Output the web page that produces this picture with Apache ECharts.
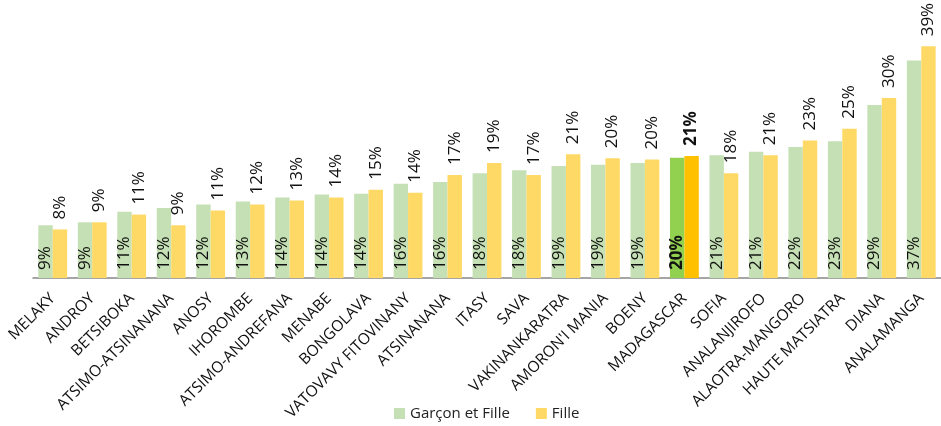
<!DOCTYPE html>
<html><head><meta charset="utf-8">
<script src="https://cdn.jsdelivr.net/npm/echarts@6/dist/echarts.min.js"></script>
<style>html,body{margin:0;padding:0;background:#fff}#c{width:941px;height:426px}</style>
</head><body><div id="c"></div>
<script>
const categories = ["MELAKY","ANDROY","BETSIBOKA","ATSIMO-ATSINANANA","ANOSY","IHOROMBE","ATSIMO-ANDREFANA","MENABE","BONGOLAVA","VATOVAVY FITOVINANY","ATSINANANA","ITASY","SAVA","VAKINANKARATRA","AMORON'I MANIA","BOENY","MADAGASCAR","SOFIA","ANALANJIROFO","ALAOTRA-MANGORO","HAUTE MATSIATRA","DIANA","ANALAMANGA"];
const garconEtFille = [8.9,9.4,11.2,11.8,12.4,12.9,13.6,14.1,14.2,15.9,16.2,17.7,18.2,18.9,19.1,19.4,20.3,20.7,21.3,22.1,23.1,29.2,36.7];
const fille = [8.2,9.4,10.7,8.9,11.4,12.4,13.1,13.6,14.9,14.4,17.4,19.4,17.4,20.9,20.2,20.0,20.6,17.7,20.7,23.2,25.2,30.4,39.1];
const highlight = "MADAGASCAR";

const FONT = "'Open Sans', 'Noto Sans', sans-serif";
const fmt = p => Math.round(p.value) + '%';

function mk(vals, hiColor) {
  return vals.map((v, i) => categories[i] === highlight
    ? {value: v, itemStyle: {color: hiColor}, label: {fontWeight: 'bold'}}
    : v);
}

const chart = echarts.init(document.getElementById('c'));
chart.setOption({
  animation: false,
  grid: {left: 33, right: -3, top: 41, bottom: 148},
  legend: {
    bottom: 0, left: 389, itemWidth: 11, itemHeight: 11, itemGap: 26,
    icon: 'rect',
    textStyle: {fontFamily: FONT, fontSize: 15, color: '#222'},
    data: ['Garçon et Fille', 'Fille']
  },
  xAxis: {
    type: 'category', data: categories,
    axisLine: {lineStyle: {color: '#888', width: 1.5}},
    axisTick: {show: false},
    axisLabel: {rotate: 45, interval: 0, margin: 18, fontFamily: FONT, fontSize: 15.5, color: '#111'}
  },
  yAxis: {type: 'value', min: 0, max: 40, show: false, splitLine: {show: false}},
  series: [
    {
      name: 'Garçon et Fille', type: 'bar', barGap: '0%', barCategoryGap: '27%',
      itemStyle: {color: '#C5E0B4'},
      data: mk(garconEtFille, '#92D050'),
      label: {show: true, position: 'insideBottom', rotate: 90, align: 'left', verticalAlign: 'middle',
        distance: 8, formatter: fmt, fontFamily: FONT, fontSize: 17, color: '#111'}
    },
    {
      name: 'Fille', type: 'bar',
      itemStyle: {color: '#FFD966'},
      data: mk(fille, '#FFC000'),
      label: {show: true, position: 'top', rotate: 90, align: 'left', verticalAlign: 'middle',
        distance: 10, formatter: fmt, fontFamily: FONT, fontSize: 17, color: '#111'}
    }
  ]
});
</script></body></html>
